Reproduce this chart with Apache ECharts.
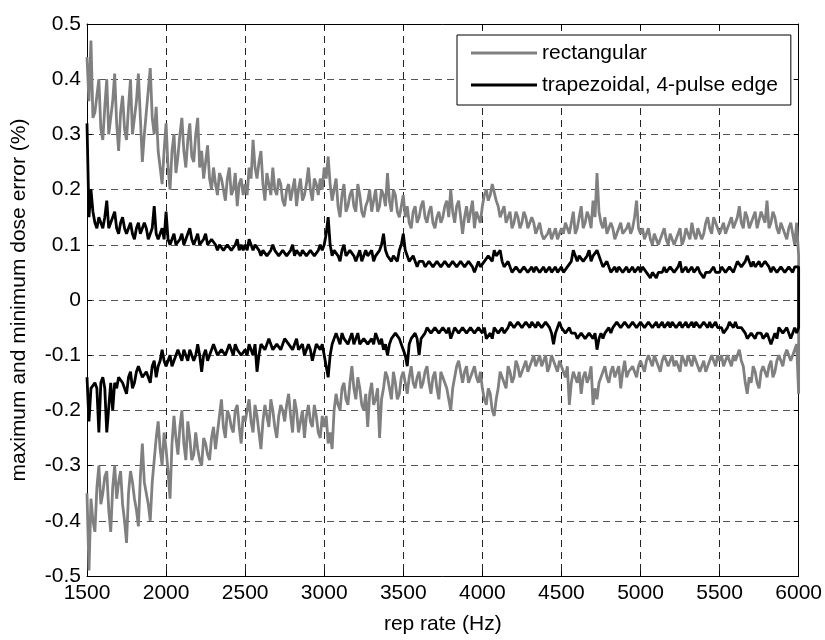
<!DOCTYPE html>
<html><head><meta charset="utf-8">
<script src="https://cdn.jsdelivr.net/npm/echarts@6/dist/echarts.min.js"></script>
<style>html,body{margin:0;padding:0;background:#fff}#c{width:825px;height:640px}</style>
</head><body><div id="c"></div>
<script>
// rep rate sample grid (Hz): readings every 25 Hz from 1500, plus readings half-way between them
const xStart = 1500, xStep = 25, nPts = 181;
const repRate = [];      // 1500, 1525, ..., 6000
const repRateMid = [];   // 1512.5, 1537.5, ..., 5987.5
for (let i = 0; i < nPts; i++) repRate.push(xStart + i * xStep);
for (let i = 0; i < nPts - 1; i++) repRateMid.push(xStart + xStep / 2 + i * xStep);

const seriesNames = ['rectangular', 'trapezoidal, 4-pulse edge'];

// rectangular: maximum dose error (%) at repRate
const rectMax = [
  0.44,0.47,0.34,0.40,0.29,0.40,0.33,0.41,0.27,0.37,0.29,0.40,0.33,0.41,0.25,0.34,0.42,0.30,0.27,0.21,
  0.32,0.20,0.30,0.26,0.33,0.24,0.32,0.25,0.33,0.27,0.25,0.22,0.24,0.19,0.22,0.18,0.24,0.20,0.17,0.22,
  0.21,0.24,0.29,0.22,0.27,0.18,0.21,0.24,0.19,0.21,0.17,0.21,0.20,0.17,0.22,0.19,0.24,0.18,0.21,0.22,
  0.24,0.26,0.18,0.22,0.15,0.21,0.17,0.20,0.16,0.19,0.15,0.18,0.16,0.20,0.17,0.19,0.23,0.16,0.19,0.15,
  0.19,0.17,0.13,0.17,0.15,0.18,0.14,0.17,0.13,0.16,0.15,0.18,0.20,0.14,0.18,0.12,0.17,0.16,0.13,0.15,
  0.17,0.20,0.19,0.21,0.17,0.16,0.14,0.16,0.14,0.15,0.14,0.15,0.13,0.14,0.12,0.12,0.11,0.13,0.12,0.11,
  0.13,0.14,0.12,0.16,0.13,0.17,0.14,0.15,0.18,0.23,0.14,0.15,0.13,0.13,0.12,0.14,0.12,0.14,0.13,0.18,
  0.12,0.11,0.13,0.10,0.12,0.11,0.13,0.10,0.12,0.11,0.13,0.11,0.12,0.14,0.11,0.13,0.12,0.15,0.12,0.14,
  0.12,0.14,0.12,0.15,0.13,0.17,0.13,0.15,0.14,0.16,0.13,0.15,0.18,0.14,0.15,0.12,0.13,0.11,0.14,0.10,
  0.08
];
// rectangular: maximum dose error (%) at repRateMid
const rectMaxMid = [
  0.36,0.33,0.37,0.31,0.35,0.30,0.36,0.32,0.34,0.31,0.35,0.30,0.36,0.33,0.30,0.38,0.33,0.35,0.24,0.27,
  0.24,0.27,0.23,0.30,0.27,0.29,0.26,0.30,0.24,0.22,0.28,0.20,0.21,0.23,0.20,0.22,0.19,0.23,0.21,0.19,
  0.19,0.22,0.24,0.25,0.21,0.23,0.19,0.20,0.22,0.18,0.20,0.18,0.22,0.20,0.18,0.21,0.20,0.22,0.19,0.20,
  0.22,0.21,0.20,0.17,0.19,0.16,0.19,0.17,0.21,0.16,0.17,0.20,0.18,0.16,0.20,0.17,0.18,0.20,0.16,0.17,
  0.15,0.14,0.16,0.14,0.17,0.15,0.16,0.14,0.15,0.14,0.17,0.15,0.16,0.17,0.15,0.15,0.14,0.18,0.16,0.14,
  0.19,0.18,0.21,0.18,0.15,0.17,0.15,0.13,0.16,0.13,0.16,0.13,0.15,0.12,0.14,0.11,0.12,0.11,0.13,0.12,
  0.12,0.13,0.14,0.12,0.15,0.13,0.16,0.13,0.15,0.16,0.13,0.12,0.14,0.11,0.13,0.12,0.13,0.12,0.15,0.13,
  0.13,0.12,0.11,0.12,0.10,0.12,0.11,0.12,0.10,0.12,0.10,0.13,0.11,0.12,0.13,0.11,0.14,0.13,0.15,0.13,
  0.13,0.12,0.14,0.13,0.15,0.14,0.16,0.13,0.15,0.13,0.16,0.14,0.13,0.16,0.13,0.14,0.12,0.13,0.12,0.14
];
// rectangular: minimum dose error (%) at repRate
const rectMin = [
  -0.35,-0.36,-0.42,-0.30,-0.35,-0.31,-0.42,-0.30,-0.33,-0.37,-0.44,-0.31,-0.36,-0.41,-0.26,-0.35,-0.40,-0.29,-0.22,-0.30,
  -0.27,-0.36,-0.21,-0.28,-0.20,-0.29,-0.25,-0.28,-0.27,-0.30,-0.26,-0.29,-0.23,-0.24,-0.18,-0.25,-0.21,-0.24,-0.19,-0.26,
  -0.22,-0.18,-0.24,-0.21,-0.27,-0.19,-0.23,-0.20,-0.25,-0.19,-0.22,-0.17,-0.24,-0.20,-0.22,-0.25,-0.19,-0.23,-0.21,-0.25,
  -0.23,-0.26,-0.27,-0.17,-0.20,-0.15,-0.19,-0.12,-0.18,-0.16,-0.20,-0.23,-0.15,-0.18,-0.25,-0.16,-0.14,-0.18,-0.15,-0.17,
  -0.13,-0.17,-0.12,-0.16,-0.13,-0.15,-0.12,-0.17,-0.13,-0.18,-0.14,-0.16,-0.20,-0.14,-0.11,-0.15,-0.12,-0.14,-0.12,-0.15,
  -0.16,-0.19,-0.17,-0.21,-0.16,-0.14,-0.16,-0.13,-0.14,-0.12,-0.13,-0.11,-0.12,-0.10,-0.11,-0.12,-0.10,-0.12,-0.11,-0.13,
  -0.12,-0.14,-0.19,-0.13,-0.15,-0.17,-0.13,-0.14,-0.19,-0.18,-0.14,-0.12,-0.15,-0.12,-0.13,-0.16,-0.11,-0.13,-0.12,-0.14,
  -0.11,-0.13,-0.10,-0.12,-0.11,-0.13,-0.10,-0.12,-0.10,-0.11,-0.13,-0.11,-0.10,-0.12,-0.11,-0.13,-0.11,-0.12,-0.10,-0.12,
  -0.11,-0.12,-0.10,-0.12,-0.11,-0.09,-0.12,-0.17,-0.15,-0.13,-0.16,-0.12,-0.14,-0.11,-0.13,-0.10,-0.12,-0.09,-0.11,-0.09,
  -0.17
];
// rectangular: minimum dose error (%) at repRateMid
const rectMinMid = [
  -0.49,-0.40,-0.34,-0.37,-0.32,-0.38,-0.34,-0.36,-0.31,-0.40,-0.35,-0.33,-0.38,-0.32,-0.33,-0.37,-0.33,-0.25,-0.27,-0.24,
  -0.31,-0.26,-0.25,-0.23,-0.26,-0.22,-0.29,-0.24,-0.29,-0.25,-0.28,-0.25,-0.27,-0.21,-0.23,-0.20,-0.23,-0.20,-0.23,-0.21,
  -0.20,-0.22,-0.19,-0.24,-0.22,-0.21,-0.18,-0.23,-0.21,-0.20,-0.19,-0.21,-0.18,-0.24,-0.20,-0.21,-0.22,-0.19,-0.24,-0.21,
  -0.21,-0.24,-0.20,-0.19,-0.16,-0.18,-0.15,-0.16,-0.14,-0.19,-0.17,-0.17,-0.19,-0.16,-0.18,-0.13,-0.16,-0.13,-0.18,-0.14,
  -0.15,-0.14,-0.15,-0.14,-0.16,-0.13,-0.15,-0.14,-0.16,-0.13,-0.15,-0.18,-0.16,-0.12,-0.13,-0.13,-0.15,-0.12,-0.14,-0.13,
  -0.18,-0.16,-0.20,-0.18,-0.13,-0.15,-0.12,-0.15,-0.11,-0.14,-0.12,-0.13,-0.11,-0.12,-0.10,-0.11,-0.13,-0.10,-0.12,-0.11,
  -0.13,-0.12,-0.15,-0.14,-0.13,-0.14,-0.15,-0.12,-0.16,-0.15,-0.13,-0.14,-0.13,-0.14,-0.12,-0.13,-0.14,-0.12,-0.13,-0.12,
  -0.12,-0.11,-0.12,-0.10,-0.12,-0.11,-0.12,-0.10,-0.12,-0.12,-0.10,-0.12,-0.11,-0.10,-0.12,-0.11,-0.13,-0.11,-0.11,-0.10,
  -0.10,-0.11,-0.12,-0.10,-0.10,-0.11,-0.15,-0.14,-0.12,-0.15,-0.13,-0.13,-0.12,-0.14,-0.11,-0.12,-0.10,-0.11,-0.10,-0.08
];
// trapezoidal, 4-pulse edge: maximum dose error (%) at repRate
const trapMax = [
  0.32,0.20,0.14,0.15,0.13,0.18,0.14,0.16,0.12,0.15,0.12,0.14,0.11,0.14,0.12,0.13,0.11,0.17,0.11,0.13,
  0.16,0.10,0.12,0.10,0.12,0.11,0.13,0.10,0.12,0.10,0.12,0.10,0.11,0.09,0.10,0.09,0.10,0.09,0.11,0.10,
  0.10,0.11,0.09,0.10,0.08,0.09,0.08,0.10,0.09,0.08,0.09,0.08,0.10,0.09,0.08,0.09,0.08,0.09,0.08,0.10,
  0.10,0.15,0.08,0.09,0.07,0.10,0.08,0.09,0.07,0.09,0.08,0.08,0.09,0.08,0.09,0.12,0.08,0.07,0.08,0.09,
  0.12,0.08,0.07,0.08,0.07,0.07,0.06,0.07,0.06,0.07,0.06,0.07,0.06,0.07,0.06,0.07,0.06,0.07,0.05,0.07,
  0.06,0.07,0.08,0.09,0.08,0.07,0.06,0.06,0.05,0.06,0.05,0.06,0.05,0.05,0.06,0.05,0.05,0.06,0.05,0.05,
  0.06,0.05,0.06,0.09,0.07,0.08,0.07,0.09,0.08,0.09,0.07,0.06,0.06,0.05,0.05,0.06,0.05,0.05,0.06,0.05,
  0.05,0.06,0.05,0.05,0.04,0.05,0.06,0.05,0.06,0.05,0.07,0.05,0.05,0.06,0.05,0.05,0.04,0.05,0.05,0.05,
  0.05,0.06,0.05,0.06,0.06,0.07,0.06,0.08,0.06,0.06,0.07,0.06,0.07,0.05,0.06,0.05,0.06,0.05,0.06,0.06,
  0.06
];
// trapezoidal, 4-pulse edge: maximum dose error (%) at repRateMid
const trapMaxMid = [
  0.15,0.16,0.13,0.14,0.15,0.13,0.15,0.13,0.14,0.13,0.13,0.12,0.13,0.12,0.14,0.11,0.13,0.12,0.12,0.11,
  0.11,0.11,0.10,0.11,0.10,0.12,0.11,0.11,0.10,0.11,0.10,0.11,0.10,0.10,0.09,0.10,0.09,0.10,0.09,0.09,
  0.09,0.10,0.10,0.09,0.09,0.08,0.09,0.09,0.08,0.09,0.08,0.09,0.08,0.09,0.09,0.08,0.09,0.08,0.09,0.09,
  0.12,0.10,0.09,0.08,0.09,0.08,0.09,0.08,0.08,0.07,0.09,0.08,0.07,0.08,0.10,0.09,0.08,0.08,0.07,0.10,
  0.09,0.07,0.08,0.06,0.07,0.06,0.07,0.06,0.07,0.06,0.07,0.06,0.07,0.06,0.07,0.06,0.07,0.06,0.06,0.06,
  0.07,0.08,0.07,0.08,0.09,0.06,0.07,0.05,0.06,0.05,0.06,0.05,0.06,0.06,0.05,0.06,0.05,0.05,0.06,0.05,
  0.05,0.06,0.07,0.08,0.08,0.07,0.08,0.07,0.08,0.08,0.06,0.07,0.05,0.06,0.06,0.05,0.06,0.05,0.05,0.06,
  0.06,0.05,0.04,0.05,0.05,0.05,0.05,0.06,0.05,0.06,0.05,0.06,0.05,0.05,0.06,0.05,0.05,0.05,0.06,0.05,
  0.06,0.05,0.06,0.05,0.07,0.06,0.07,0.07,0.07,0.06,0.06,0.07,0.06,0.06,0.05,0.06,0.05,0.06,0.05,0.06
];
// trapezoidal, 4-pulse edge: minimum dose error (%) at repRate
const trapMin = [
  -0.14,-0.16,-0.15,-0.24,-0.14,-0.24,-0.15,-0.15,-0.14,-0.15,-0.17,-0.13,-0.15,-0.12,-0.14,-0.13,-0.15,-0.11,-0.12,-0.09,
  -0.12,-0.10,-0.11,-0.09,-0.11,-0.10,-0.09,-0.11,-0.08,-0.13,-0.09,-0.10,-0.08,-0.10,-0.09,-0.10,-0.08,-0.10,-0.09,-0.10,
  -0.09,-0.08,-0.10,-0.13,-0.08,-0.09,-0.07,-0.09,-0.08,-0.09,-0.07,-0.08,-0.09,-0.07,-0.08,-0.10,-0.08,-0.11,-0.08,-0.09,
  -0.10,-0.14,-0.08,-0.06,-0.08,-0.07,-0.08,-0.06,-0.07,-0.08,-0.07,-0.08,-0.07,-0.06,-0.08,-0.09,-0.10,-0.07,-0.06,-0.07,
  -0.09,-0.12,-0.07,-0.06,-0.10,-0.06,-0.05,-0.06,-0.05,-0.06,-0.05,-0.06,-0.07,-0.05,-0.06,-0.05,-0.06,-0.05,-0.06,-0.05,
  -0.06,-0.07,-0.06,-0.05,-0.06,-0.05,-0.05,-0.04,-0.05,-0.04,-0.05,-0.04,-0.05,-0.05,-0.04,-0.05,-0.04,-0.05,-0.08,-0.05,
  -0.05,-0.06,-0.05,-0.06,-0.07,-0.06,-0.07,-0.06,-0.07,-0.09,-0.06,-0.06,-0.05,-0.05,-0.04,-0.05,-0.04,-0.05,-0.04,-0.05,
  -0.04,-0.05,-0.04,-0.05,-0.04,-0.04,-0.05,-0.04,-0.04,-0.05,-0.04,-0.04,-0.05,-0.04,-0.04,-0.05,-0.04,-0.05,-0.05,-0.04,
  -0.05,-0.06,-0.05,-0.05,-0.04,-0.05,-0.06,-0.07,-0.06,-0.07,-0.06,-0.07,-0.06,-0.08,-0.06,-0.05,-0.06,-0.05,-0.07,-0.05,
  -0.05
];
// trapezoidal, 4-pulse edge: minimum dose error (%) at repRateMid
const trapMinMid = [
  -0.22,-0.15,-0.16,-0.15,-0.16,-0.15,-0.20,-0.16,-0.15,-0.16,-0.14,-0.16,-0.13,-0.14,-0.13,-0.14,-0.12,-0.14,-0.11,-0.11,
  -0.11,-0.12,-0.10,-0.11,-0.09,-0.11,-0.10,-0.10,-0.10,-0.10,-0.11,-0.09,-0.09,-0.09,-0.10,-0.09,-0.09,-0.08,-0.10,-0.09,
  -0.10,-0.09,-0.08,-0.10,-0.09,-0.08,-0.08,-0.08,-0.09,-0.08,-0.08,-0.09,-0.08,-0.09,-0.08,-0.09,-0.09,-0.08,-0.09,-0.08,
  -0.12,-0.10,-0.07,-0.07,-0.06,-0.08,-0.07,-0.08,-0.06,-0.07,-0.08,-0.07,-0.08,-0.07,-0.07,-0.08,-0.08,-0.06,-0.07,-0.08,
  -0.10,-0.08,-0.06,-0.07,-0.07,-0.06,-0.06,-0.05,-0.06,-0.05,-0.06,-0.05,-0.06,-0.06,-0.05,-0.06,-0.05,-0.06,-0.05,-0.06,
  -0.05,-0.06,-0.07,-0.06,-0.05,-0.06,-0.05,-0.05,-0.04,-0.05,-0.04,-0.05,-0.04,-0.05,-0.05,-0.04,-0.05,-0.06,-0.06,-0.04,
  -0.06,-0.05,-0.06,-0.06,-0.06,-0.07,-0.06,-0.07,-0.06,-0.07,-0.07,-0.05,-0.06,-0.04,-0.05,-0.04,-0.05,-0.04,-0.05,-0.04,
  -0.05,-0.04,-0.05,-0.04,-0.05,-0.04,-0.04,-0.05,-0.05,-0.04,-0.05,-0.04,-0.04,-0.05,-0.05,-0.04,-0.05,-0.04,-0.04,-0.05,
  -0.05,-0.05,-0.04,-0.05,-0.05,-0.05,-0.06,-0.06,-0.07,-0.06,-0.06,-0.06,-0.07,-0.06,-0.07,-0.06,-0.05,-0.06,-0.05,-0.06
];

// merge on-grid and half-way readings in rep-rate order
function merged(onGrid, mid) {
  const pts = [];
  for (let i = 0; i < repRate.length; i++) {
    pts.push([repRate[i], onGrid[i]]);
    if (i < repRateMid.length) pts.push([repRateMid[i], mid[i]]);
  }
  return pts;
}
// each curve is drawn as max forward, then min backward
function envelope(maxPts, minPts) {
  return maxPts.concat(minPts.slice().reverse());
}

const FONT = 'Liberation Sans, Arial, sans-serif';
const FS = 21;
const gridDash = { type: [7, 5], width: 1 };

const chart = echarts.init(document.getElementById('c'), null, { renderer: 'canvas' });
chart.setOption({
  animation: false,
  backgroundColor: '#fff',
  textStyle: { fontFamily: FONT },
  grid: { left: 87, right: 24, top: 24, bottom: 56, containLabel: false },
  legend: {
    data: seriesNames,
    orient: 'vertical',
    left: 457, top: 35,
    padding: [7, 13, 9, 14],
    itemWidth: 66, itemHeight: 3, itemGap: 10,
    icon: 'rect',
    backgroundColor: '#fff',
    borderColor: '#000', borderWidth: 1,
    textStyle: { fontFamily: FONT, fontSize: FS, color: '#000', lineHeight: 22 }
  },
  xAxis: [
    {
      type: 'value', position: 'bottom', min: 1500, max: 6000, interval: 500,
      name: 'rep rate (Hz)', nameLocation: 'middle', nameGap: 38,
      nameTextStyle: { fontFamily: FONT, fontSize: FS, color: '#000' },
      axisLine: { onZero: false, lineStyle: { color: '#000', width: 1 } },
      axisTick: { inside: true, length: 5, lineStyle: { color: '#000' } },
      axisLabel: { fontFamily: FONT, fontSize: FS, color: '#000', margin: 7,
        formatter: v => String(v) },
      splitLine: { show: true, lineStyle: Object.assign({ color: '#222' }, gridDash) }
    },
    {
      type: 'value', position: 'top', min: 1500, max: 6000, interval: 500,
      axisLine: { onZero: false, lineStyle: { color: '#000', width: 1 } },
      axisTick: { inside: true, length: 5, lineStyle: { color: '#000' } },
      axisLabel: { show: false }, splitLine: { show: false }
    }
  ],
  yAxis: [
    {
      type: 'value', position: 'left', min: -0.5, max: 0.5, interval: 0.1,
      name: 'maximum and minimum dose error (%)', nameLocation: 'middle', nameGap: 57,
      nameTextStyle: { fontFamily: FONT, fontSize: FS, color: '#000' },
      axisLine: { onZero: false, lineStyle: { color: '#000', width: 1 } },
      axisTick: { inside: true, length: 5, lineStyle: { color: '#000' } },
      axisLabel: { fontFamily: FONT, fontSize: FS, color: '#000', margin: 6,
        formatter: v => String(Math.round(v * 10) / 10) },
      splitLine: { show: true, lineStyle: Object.assign({ color: '#555' }, gridDash) }
    },
    {
      type: 'value', position: 'right', min: -0.5, max: 0.5, interval: 0.1,
      axisLine: { onZero: false, lineStyle: { color: '#000', width: 1 } },
      axisTick: { inside: true, length: 5, lineStyle: { color: '#000' } },
      axisLabel: { show: false }, splitLine: { show: false }
    }
  ],
  series: [
    {
      name: seriesNames[0], type: 'line', xAxisIndex: 0, yAxisIndex: 0,
      data: envelope(merged(rectMax, rectMaxMid), merged(rectMin, rectMinMid)),
      showSymbol: false, symbol: 'none',
      lineStyle: { color: '#808080', width: 2.8 }, itemStyle: { color: '#808080' },
      clip: true, z: 3
    },
    {
      name: seriesNames[1], type: 'line', xAxisIndex: 0, yAxisIndex: 0,
      data: envelope(merged(trapMax, trapMaxMid), merged(trapMin, trapMinMid)),
      showSymbol: false, symbol: 'none',
      lineStyle: { color: '#000', width: 2.8 }, itemStyle: { color: '#000' },
      clip: true, z: 4
    }
  ]
});
</script>
</body></html>
